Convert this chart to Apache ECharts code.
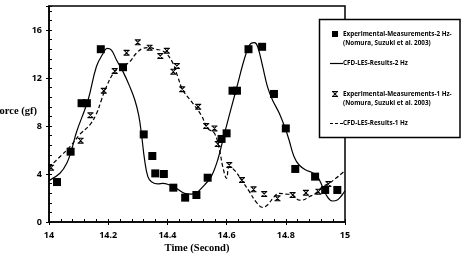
<!DOCTYPE html>
<html>
<head>
<meta charset="utf-8">
<script src="https://cdn.jsdelivr.net/npm/echarts@6/dist/echarts.min.js"></script>
<style>
  html, body { margin: 0; padding: 0; background: #fff; }
  #main { width: 461px; height: 255px; }
</style>
</head>
<body>
<div id="main"></div>
<script>
// axis ranges
var xTicks = [14, 14.2, 14.4, 14.6, 14.8, 15];
var yTicks = [0, 4, 8, 12, 16];

// Experimental-Measurements-2 Hz (squares)
var exp2 = [
    [14.027, 3.33], [14.073, 5.86], [14.11, 9.9], [14.128, 9.9], [14.175, 14.4],
    [14.25, 12.9], [14.32, 7.3], [14.349, 5.5], [14.359, 4.05], [14.388, 4.0],
    [14.42, 2.86], [14.46, 2.03], [14.498, 2.25], [14.536, 3.69], [14.583, 6.92],
    [14.60, 7.39], [14.62, 10.94], [14.635, 10.94], [14.674, 14.4], [14.72, 14.6],
    [14.76, 10.67], [14.80, 7.8], [14.832, 4.42], [14.899, 3.78], [14.933, 2.67],
    [14.974, 2.67]
];

// CFD-LES-Results-2 Hz (solid)
var cfd2 = [
    [14.0, 3.45], [14.037, 4.06], [14.06, 4.89], [14.076, 6.0], [14.093, 7.5],
    [14.132, 10.17], [14.16, 12.94], [14.183, 14.06], [14.196, 14.47], [14.211, 14.33],
    [14.228, 13.5], [14.25, 12.53], [14.273, 11.28], [14.29, 10.17], [14.303, 8.9],
    [14.313, 7.2], [14.323, 5.17], [14.334, 3.78], [14.346, 3.36], [14.368, 3.17],
    [14.385, 3.22], [14.407, 3.08], [14.43, 2.81], [14.458, 2.39], [14.48, 2.33],
    [14.503, 2.53], [14.525, 3.08], [14.548, 3.78], [14.57, 5.17], [14.593, 7.39],
    [14.632, 11.0], [14.666, 14.06], [14.683, 14.89], [14.694, 14.94], [14.705, 14.61],
    [14.722, 12.94], [14.738, 11.28], [14.755, 10.17], [14.778, 9.06], [14.80, 7.67],
    [14.811, 6.83], [14.828, 5.44], [14.845, 4.75], [14.868, 4.33], [14.89, 4.11],
    [14.907, 3.78], [14.924, 2.94], [14.94, 2.11], [14.957, 1.75], [14.974, 1.83],
    [14.99, 2.25], [15.0, 2.6]
];

// Experimental-Measurements-1 Hz (hourglass markers)
var exp1 = [
    [14.007, 4.53], [14.107, 6.78], [14.14, 8.9], [14.185, 10.94], [14.222, 12.58],
    [14.262, 14.1], [14.30, 14.97], [14.34, 14.53], [14.376, 13.83], [14.398, 14.27],
    [14.42, 12.53], [14.432, 13.0], [14.45, 11.06], [14.504, 9.6], [14.531, 8.0],
    [14.559, 7.8], [14.57, 6.5], [14.609, 4.75], [14.652, 3.5], [14.691, 2.72],
    [14.727, 2.33], [14.772, 1.97], [14.823, 2.25], [14.868, 2.44], [14.91, 2.53],
    [14.944, 3.17]
];

// CFD-LES-Results-1 Hz (dashed)
var cfd1 = [
    [14.0, 4.55], [14.037, 5.44], [14.071, 6.28], [14.104, 7.3], [14.138, 8.1],
    [14.161, 9.06], [14.177, 10.17], [14.194, 11.28], [14.222, 12.53], [14.25, 12.94],
    [14.273, 13.36], [14.295, 14.06], [14.318, 14.47], [14.34, 14.53], [14.363, 14.38],
    [14.38, 14.3], [14.396, 14.06], [14.419, 13.22], [14.435, 12.11], [14.452, 11.0],
    [14.486, 9.89], [14.514, 8.92], [14.536, 7.81], [14.559, 7.39], [14.576, 6.0],
    [14.587, 4.61], [14.6, 3.64], [14.609, 4.61], [14.626, 4.33], [14.654, 3.36],
    [14.677, 2.53], [14.699, 1.69], [14.722, 1.22], [14.738, 1.42], [14.761, 2.11],
    [14.778, 2.39], [14.8, 2.33], [14.823, 2.25], [14.845, 1.83], [14.856, 1.83],
    [14.879, 2.11], [14.901, 2.39], [14.924, 2.94], [14.946, 3.22], [14.969, 3.64],
    [14.99, 4.06], [15.0, 4.3]
];

var legendNames = [
    'Experimental-Measurements-2 Hz-',
    'CFD-LES-Results-2 Hz',
    'Experimental-Measurements-1 Hz-',
    'CFD-LES-Results-1 Hz'
];
var legendRef = '(Nomura, Suzuki et al. 2003)';

// X with a bar on top and bottom
var hourglass = 'path://M0,0L10,0L10,2L0,2ZM0,8L10,8L10,10L0,10ZM1,2L3.2,2L9,8L6.8,8ZM6.8,2L9,2L3.2,8L1,8Z';
var tickLabel = { fontFamily: 'Open Sans', fontWeight: 'bold', fontSize: 9, color: '#000' };

function legText(txt, x, y) {
    return {
        type: 'text', x: x, y: y,
        style: { text: txt, fontFamily: 'Open Sans', fontWeight: 'bold', fontSize: 6.3,
                 fill: '#000', verticalAlign: 'middle' }
    };
}

// small hourglass icon for the legend, centred on (cx, cy)
function legHourglass(cx, cy) {
    var s = 3;
    return [
        { type: 'rect', shape: { x: cx - s, y: cy - s, width: 2 * s, height: 1.2 }, style: { fill: '#000' } },
        { type: 'rect', shape: { x: cx - s, y: cy + s - 1.2, width: 2 * s, height: 1.2 }, style: { fill: '#000' } },
        { type: 'polygon', shape: { points: [[cx - 2.4, cy - 1.8], [cx - 1, cy - 1.8], [cx + 2.4, cy + 1.8], [cx + 1, cy + 1.8]] }, style: { fill: '#000' } },
        { type: 'polygon', shape: { points: [[cx + 1, cy - 1.8], [cx + 2.4, cy - 1.8], [cx - 1, cy + 1.8], [cx - 2.4, cy + 1.8]] }, style: { fill: '#000' } }
    ];
}

var chart = echarts.init(document.getElementById('main'));

var legendChildren = [
    { type: 'rect', shape: { x: 319.5, y: 19.5, width: 140.5, height: 118 },
      style: { fill: '#fff', stroke: '#000', lineWidth: 1.5 } },
    { type: 'rect', shape: { x: 332, y: 31, width: 6, height: 6 }, style: { fill: '#000' } },
    legText(legendNames[0], 343, 34),
    legText(legendRef, 343, 43),
    { type: 'line', shape: { x1: 330, y1: 63.5, x2: 343, y2: 63.5 }, style: { stroke: '#000', lineWidth: 1.2 } },
    legText(legendNames[1], 343, 63.5),
    legText(legendNames[2], 343, 94),
    legText(legendRef, 343, 103.5),
    { type: 'line', shape: { x1: 330, y1: 123.5, x2: 343, y2: 123.5 },
      style: { stroke: '#000', lineWidth: 1.2, lineDash: [3, 2] } },
    legText(legendNames[3], 343, 123.5)
].concat(legHourglass(335, 94));

var option = {
    animation: false,
    backgroundColor: '#fff',
    grid: {
        left: 49, right: 116, top: 6, bottom: 33,
        show: true, borderColor: '#000', borderWidth: 1.5, backgroundColor: 'transparent'
    },
    xAxis: [{
        type: 'value', min: xTicks[0], max: xTicks[xTicks.length - 1], interval: 0.2,
        axisLine: { lineStyle: { color: '#000', width: 1.5 } },
        axisTick: { inside: true, length: 3, lineStyle: { color: '#000' } },
        minorTick: { show: true, splitNumber: 5, length: 3, lineStyle: { color: '#000' } },
        axisLabel: Object.assign({ margin: 9 }, tickLabel),
        splitLine: { show: false }
    }, {
        // outward half of the major ticks
        type: 'value', min: xTicks[0], max: xTicks[xTicks.length - 1], interval: 0.2, position: 'bottom',
        axisLine: { show: false },
        axisTick: { inside: false, length: 3, lineStyle: { color: '#000' } },
        axisLabel: { show: false },
        splitLine: { show: false }
    }],
    yAxis: [{
        type: 'value', min: yTicks[0], max: 18, interval: 4,
        axisLine: { show: true, lineStyle: { color: '#000', width: 1.5 } },
        axisTick: { show: true, inside: true, length: 3, lineStyle: { color: '#000' } },
        minorTick: { show: true, splitNumber: 5, length: 3, lineStyle: { color: '#000' } },
        axisLabel: Object.assign({ margin: 7, showMaxLabel: false }, tickLabel),
        splitLine: { show: false }
    }, {
        type: 'value', min: yTicks[0], max: 18, interval: 4, position: 'left',
        axisLine: { show: false },
        axisTick: { show: true, inside: false, length: 3, lineStyle: { color: '#000' } },
        axisLabel: { show: false },
        splitLine: { show: false }
    }],
    series: [{
        name: legendNames[1], type: 'line', data: cfd2, smooth: 0.4, symbol: 'none',
        lineStyle: { color: '#000', width: 1.2 }, z: 2
    }, {
        name: legendNames[3], type: 'line', data: cfd1, smooth: 0.4, symbol: 'none',
        lineStyle: { color: '#000', width: 1.2, type: [4, 2.5] }, z: 2
    }, {
        name: legendNames[0], type: 'scatter', data: exp2, symbol: 'rect', symbolSize: 8,
        itemStyle: { color: '#000', opacity: 1 }, z: 3
    }, {
        name: legendNames[2], type: 'scatter', data: exp1, symbol: hourglass, symbolSize: 6,
        itemStyle: { color: '#000', opacity: 1 }, z: 3
    }],
    graphic: [
        { type: 'text', x: 37, y: 111,
          style: { text: 'Force (gf)', fontFamily: 'Liberation Serif', fontWeight: 'bold', fontSize: 10.5,
                   fill: '#000', align: 'right', verticalAlign: 'middle' } },
        { type: 'text', x: 197, y: 248,
          style: { text: 'Time (Second)', fontFamily: 'Liberation Serif', fontWeight: 'bold', fontSize: 10.5,
                   fill: '#000', align: 'center', verticalAlign: 'middle' } },
        { type: 'group', x: 0, y: 0, z: 100, children: legendChildren }
    ]
};

chart.setOption(option);
</script>
</body>
</html>
